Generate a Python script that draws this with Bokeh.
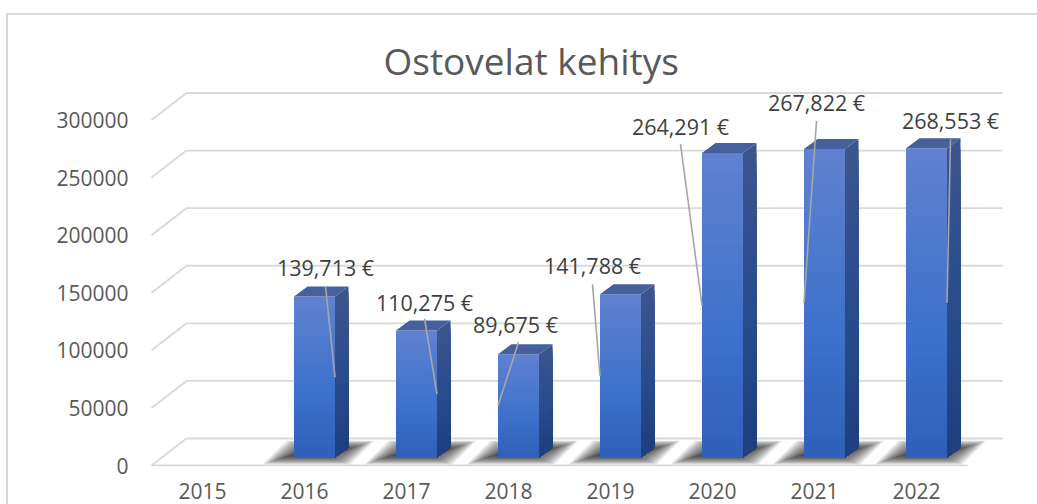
from bokeh.plotting import figure
from bokeh.embed import file_html
from bokeh.resources import INLINE
from bokeh.core.properties import value
from bokeh.models import Range1d, FixedTicker

# ---- data ----
years = ["2015", "2016", "2017", "2018", "2019", "2020", "2021", "2022"]
amounts = [None, 139713, 110275, 89675, 141788, 264291, 267822, 268553]
labels = ["", "139,713 €", "110,275 €", "89,675 €", "141,788 €", "264,291 €", "267,822 €", "268,553 €"]
y_ticks = [0, 50000, 100000, 150000, 200000, 250000, 300000]
title = "Ostovelat kehitys"

# ---- layout (pixels) ----
W, H = 1037, 504
UX = 102.0                 # px per category
UY = 345.5 / 300000        # px per euro
ORIGIN_PX = 202.0          # screen x of category 0
ZERO_PX = 465.0            # screen y of value 0
F_L, F_R, F_T, F_B = 150, 1014, 86, 466
def dx(px): return px / UX
def dy(px): return px / UY

p = figure(width=W, height=H, output_backend="svg", toolbar_location=None,
           x_range=Range1d((F_L - ORIGIN_PX) / UX, (F_R - ORIGIN_PX) / UX),
           y_range=Range1d(-(F_B - ZERO_PX) / UY, (ZERO_PX - F_T) / UY),
           min_border_left=F_L, min_border_right=W - F_R,
           min_border_top=F_T, min_border_bottom=H - F_B)
p.background_fill_color = "white"
p.border_fill_color = "white"
p.outline_line_color = None
p.grid.visible = False

# chart border: left and top only, the right and bottom run off the picture
p.stylesheets = [":host::after{content:'';position:absolute;left:6px;top:13px;right:0;bottom:0;"
                 "border-left:2px solid #d9d9d9;border-top:2px solid #d9d9d9;"
                 "pointer-events:none;z-index:5}"]

# title
p.title.text = title
p.title.text_font = "Open Sans"
p.title.text_font_size = "37px"
p.title.text_font_style = "normal"
p.title.text_color = "#595959"
p.title.align = "left"
p.title.offset = 233
p.title.standoff = 1

# axes
p.yaxis.ticker = FixedTicker(ticks=y_ticks)
p.yaxis.axis_line_color = None
p.yaxis.major_tick_line_color = None
p.yaxis.minor_tick_line_color = None
p.yaxis.major_label_standoff = 16
p.yaxis.major_label_text_font = "Open Sans"
p.yaxis.major_label_text_font_size = "21px"
p.yaxis.major_label_text_color = "#595959"
p.yaxis.major_label_overrides = {v: str(v) for v in y_ticks}

p.xaxis.ticker = FixedTicker(ticks=list(range(len(years))))
p.xaxis.major_label_overrides = {i: y for i, y in enumerate(years)}
p.xaxis.axis_line_color = None
p.xaxis.major_tick_line_color = None
p.xaxis.minor_tick_line_color = None
p.xaxis.major_label_standoff = 10
p.xaxis.major_label_text_font = "Open Sans"
p.xaxis.major_label_text_font_size = "21px"
p.xaxis.major_label_text_color = "#595959"

# gridlines + floor
n = len(years)
gx0, gx1 = -0.5, n - 0.5
wall_x, wall_y = dx(35), dy(27)
GRID_W = 1.8
for v in y_ticks:
    p.line([gx0, gx0 + wall_x, gx1 + wall_x], [v, v + wall_y, v + wall_y],
           line_color="#d9d9d9", line_width=GRID_W)
p.line([gx0, gx1], [0, 0], line_color="#d9d9d9", line_width=GRID_W)

# bars
BAR_OFF, HALF = dx(10), dx(20.5)
BASE = dy(8)
DEPTH_X, DEPTH_Y = dx(13.5), dy(10)
N_BANDS = 30

def lerp(c1, c2, t):
    return "#%02x%02x%02x" % tuple(round(a + (b - a) * t) for a, b in zip(c1, c2))

def ramp(stops, t):
    for (t0, c0), (t1, c1) in zip(stops, stops[1:]):
        if t <= t1:
            return lerp(c0, c1, (t - t0) / (t1 - t0))
    return lerp(stops[-1][1], stops[-1][1], 0)

FRONT = [(0, (0x2f, 0x5f, 0xb8)), (0.42, (0x3d, 0x71, 0xcb)), (1, (0x5f, 0x81, 0xd0))]
SIDE = [(0, (0x1e, 0x3e, 0x7c)), (0.42, (0x27, 0x4b, 0x8c)), (1, (0x3b, 0x55, 0x8e))]
TOP_FACE = "#45609c"

present = [(i, v) for i, v in enumerate(amounts) if v is not None]

# floor shadows: many nested faint parallelograms give a soft edge
for layer in range(20):
    inset = layer * 0.75
    xs, ys = [], []
    for i, v in present:
        c = i + BAR_OFF
        bl = c + dx(262 - 314 + inset * 2)
        br = c + dx(350 - 314 - inset * 2)
        tl = c + dx(286 - 314 + inset * 2)
        tr = c + dx(374 - 314 - inset * 2)
        yb = dy(ZERO_PX - 464 + inset * 0.7)
        yt = dy(ZERO_PX - 440 - inset * 0.7)
        xs.append([bl, br, tr, tl])
        ys.append([yb, yb, yt, yt])
    p.patches(xs, ys, fill_color="#202020", fill_alpha=0.08, line_color=None)

for i, v in present:
    c = i + BAR_OFF
    l, r = c - HALF, c + HALF
    top = v + BASE
    # side and front faces painted from the tallest band down, so no seams show
    for k in range(N_BANDS, 0, -1):
        t = k / N_BANDS
        yy = BASE + v * t
        p.patch([r, r + DEPTH_X, r + DEPTH_X, r], [BASE, BASE + DEPTH_Y, yy + DEPTH_Y, yy],
                fill_color=ramp(SIDE, t), line_color=None)
        p.quad(left=l, right=r, bottom=BASE, top=yy, fill_color=ramp(FRONT, t), line_color=None)
    p.patch([l, r, r + DEPTH_X, l + DEPTH_X], [top, top, top + DEPTH_Y, top + DEPTH_Y],
            fill_color=TOP_FACE, line_color=None)

# data labels and leaders
LABEL_OFF = {1: (11, 29), 2: (8, 28), 3: (-3, 30), 4: (-28, 29),
             5: (-42, 27), 6: (-8, 47), 7: (24, 28)}
LEADER_SIDE = {1: 1, 2: 1, 3: -1, 4: -1, 5: -1, 6: -1, 7: 1}
LEADER_TOP = {1: (0, 19), 2: (0, 16), 3: (3, 18), 4: (0, 19), 5: (0, 18), 6: (0, 19), 7: (0, 19)}
for i, v in present:
    c = i + BAR_OFF
    top = v + BASE
    ox, oy = LABEL_OFF[i]
    lx, ly = c + dx(ox), top + dy(oy)
    sx, sy = LEADER_TOP[i]
    p.line([lx + dx(sx), c + LEADER_SIDE[i] * HALF], [ly - dy(sy), BASE + v / 2],
           line_color="#a6a6a6", line_width=1.6)
    p.text([lx], [ly], text=[labels[i]], text_align="center", text_baseline="middle",
           text_font=value("Open Sans"), text_font_size="21.5px", text_color="#404040")

open("out.html", "w").write(file_html(p, INLINE))
